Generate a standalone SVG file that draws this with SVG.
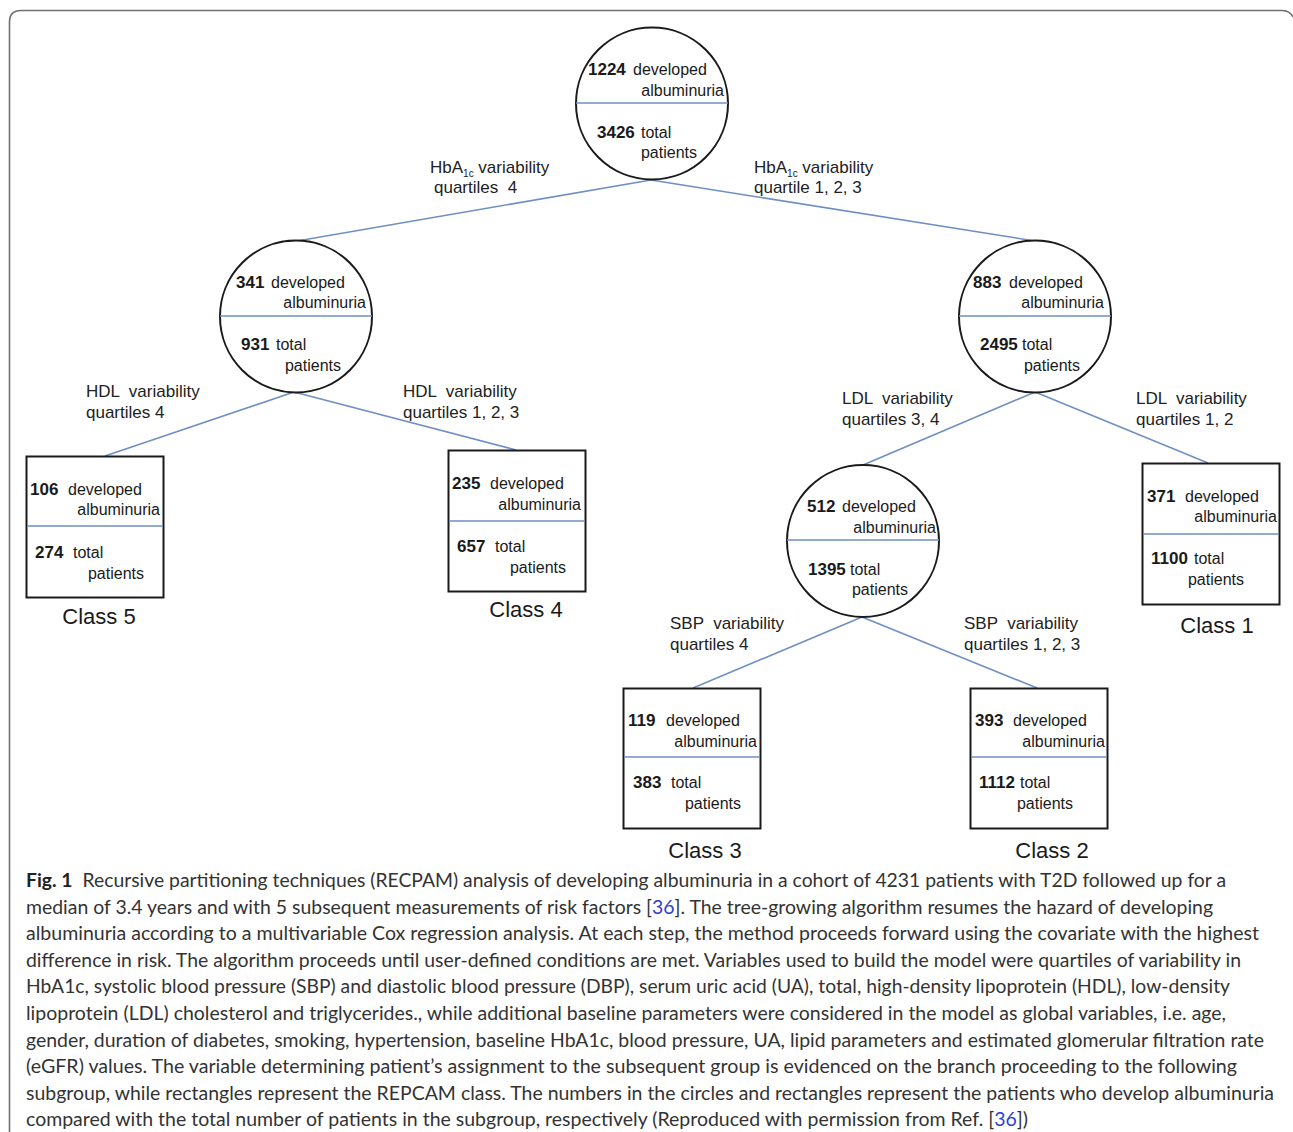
<svg xmlns="http://www.w3.org/2000/svg" width="1293" height="1132" viewBox="0 0 1293 1132">
<style>
.frame{fill:none;stroke:#707070;stroke-width:1.6}
.node{fill:#fff;stroke:#1a1a1a;stroke-width:2}
.div{stroke:#6f8fc4;stroke-width:1.6}
.edge{stroke:#6f8fc4;stroke-width:1.6;fill:none}
.t{font-family:"Liberation Sans",Arial,sans-serif;font-size:16px;fill:#1a1a1a}
.n{font-weight:bold;font-size:17px}
.e{text-anchor:end}
.lbl{font-family:"Liberation Sans",Arial,sans-serif;font-size:17px;fill:#222;white-space:pre}
.sub{font-size:10px}
.cls{font-family:"Liberation Sans",Arial,sans-serif;font-size:22px;fill:#1a1a1a;text-anchor:middle}
.cap{font-family:Lato,"Open Sans",sans-serif;font-size:19.5px;fill:#333;white-space:pre}
.link{fill:#2b3fd8}
</style>
<rect width="1293" height="1132" fill="#fff"/>
<path class="frame" d="M9.5,1132 V22 Q9.5,10.5 21,10.5 H1282 Q1290,10.5 1293,17"/>

<g id="connectors">
<line class="edge" x1="651" y1="180" x2="297" y2="241"/>
<line class="edge" x1="651" y1="180" x2="1035" y2="241"/>
<line class="edge" x1="294" y1="392" x2="105" y2="456"/>
<line class="edge" x1="294" y1="392" x2="516" y2="450"/>
<line class="edge" x1="1035" y1="392" x2="863" y2="465"/>
<line class="edge" x1="1035" y1="392" x2="1208" y2="463"/>
<line class="edge" x1="862" y1="617" x2="693" y2="688"/>
<line class="edge" x1="862" y1="617" x2="1037" y2="688"/>
<text class="lbl" x="430" y="173">HbA<tspan class="sub" dy="4">1c</tspan><tspan dy="-4"> variability</tspan></text>
<text class="lbl" x="434" y="193">quartiles  4</text>
<text class="lbl" x="754" y="173">HbA<tspan class="sub" dy="4">1c</tspan><tspan dy="-4"> variability</tspan></text>
<text class="lbl" x="754" y="193">quartile 1, 2, 3</text>
<text class="lbl" x="86" y="397">HDL  variability</text>
<text class="lbl" x="86" y="418">quartiles 4</text>
<text class="lbl" x="403" y="397">HDL  variability</text>
<text class="lbl" x="403" y="418">quartiles 1, 2, 3</text>
<text class="lbl" x="842" y="404">LDL  variability</text>
<text class="lbl" x="842" y="425">quartiles 3, 4</text>
<text class="lbl" x="1136" y="404">LDL  variability</text>
<text class="lbl" x="1136" y="425">quartiles 1, 2</text>
<text class="lbl" x="670" y="629">SBP  variability</text>
<text class="lbl" x="670" y="650">quartiles 4</text>
<text class="lbl" x="964" y="629">SBP  variability</text>
<text class="lbl" x="964" y="650">quartiles 1, 2, 3</text>
</g>

<g id="node-root">
<circle class="node" cx="652" cy="103.5" r="76"/>
<line class="div" x1="576" y1="103" x2="728" y2="103"/>
<text class="t" y="75"><tspan class="n" x="588">1224</tspan><tspan x="633">developed</tspan></text>
<text class="t e" x="724" y="96">albuminuria</text>
<text class="t" y="138"><tspan class="n" x="597">3426</tspan><tspan x="641">total</tspan></text>
<text class="t e" x="697" y="158">patients</text>
</g>

<g id="node-left">
<circle class="node" cx="296" cy="316.5" r="76"/>
<line class="div" x1="220" y1="316" x2="372" y2="316"/>
<text class="t" y="288"><tspan class="n" x="236">341</tspan><tspan x="271">developed</tspan></text>
<text class="t e" x="366" y="308">albuminuria</text>
<text class="t" y="350"><tspan class="n" x="241">931</tspan><tspan x="276">total</tspan></text>
<text class="t e" x="341" y="371">patients</text>
</g>

<g id="node-right">
<circle class="node" cx="1035" cy="316.5" r="76"/>
<line class="div" x1="959" y1="316" x2="1111" y2="316"/>
<text class="t" y="288"><tspan class="n" x="973">883</tspan><tspan x="1009">developed</tspan></text>
<text class="t e" x="1104" y="308">albuminuria</text>
<text class="t" y="350"><tspan class="n" x="980">2495</tspan><tspan x="1022">total</tspan></text>
<text class="t e" x="1080" y="371">patients</text>
</g>

<g id="node-mid">
<circle class="node" cx="863" cy="541" r="76"/>
<line class="div" x1="787" y1="540" x2="939" y2="540"/>
<text class="t" y="512"><tspan class="n" x="807">512</tspan><tspan x="842">developed</tspan></text>
<text class="t e" x="936" y="533">albuminuria</text>
<text class="t" y="575"><tspan class="n" x="808">1395</tspan><tspan x="850">total</tspan></text>
<text class="t e" x="908" y="595">patients</text>
</g>

<g id="class5">
<rect class="node" x="26.5" y="456.5" width="137" height="141"/>
<line class="div" x1="27" y1="526" x2="163" y2="526"/>
<text class="t" y="495"><tspan class="n" x="30">106</tspan><tspan x="68">developed</tspan></text>
<text class="t e" x="160" y="515">albuminuria</text>
<text class="t" y="558"><tspan class="n" x="35">274</tspan><tspan x="73">total</tspan></text>
<text class="t e" x="144" y="579">patients</text>
<text class="cls" x="99" y="624">Class 5</text>
</g>

<g id="class4">
<rect class="node" x="448.5" y="450.5" width="137" height="141"/>
<line class="div" x1="449" y1="521" x2="585" y2="521"/>
<text class="t" y="489"><tspan class="n" x="452">235</tspan><tspan x="490">developed</tspan></text>
<text class="t e" x="581" y="510">albuminuria</text>
<text class="t" y="552"><tspan class="n" x="457">657</tspan><tspan x="495">total</tspan></text>
<text class="t e" x="566" y="573">patients</text>
<text class="cls" x="526" y="617">Class 4</text>
</g>

<g id="class1">
<rect class="node" x="1142.5" y="463.5" width="137" height="141"/>
<line class="div" x1="1143" y1="534" x2="1279" y2="534"/>
<text class="t" y="502"><tspan class="n" x="1147">371</tspan><tspan x="1185">developed</tspan></text>
<text class="t e" x="1277" y="522">albuminuria</text>
<text class="t" y="564"><tspan class="n" x="1151">1100</tspan><tspan x="1194">total</tspan></text>
<text class="t e" x="1244" y="585">patients</text>
<text class="cls" x="1217" y="633">Class 1</text>
</g>

<g id="class3">
<rect class="node" x="623.5" y="688.5" width="137" height="140"/>
<line class="div" x1="624" y1="757" x2="760" y2="757"/>
<text class="t" y="726"><tspan class="n" x="628">119</tspan><tspan x="666">developed</tspan></text>
<text class="t e" x="757" y="747">albuminuria</text>
<text class="t" y="788"><tspan class="n" x="633">383</tspan><tspan x="671">total</tspan></text>
<text class="t e" x="741" y="809">patients</text>
<text class="cls" x="705" y="858">Class 3</text>
</g>

<g id="class2">
<rect class="node" x="970.5" y="688.5" width="137" height="140"/>
<line class="div" x1="971" y1="757" x2="1107" y2="757"/>
<text class="t" y="726"><tspan class="n" x="975">393</tspan><tspan x="1013">developed</tspan></text>
<text class="t e" x="1105" y="747">albuminuria</text>
<text class="t" y="788"><tspan class="n" x="979">1112</tspan><tspan x="1020">total</tspan></text>
<text class="t e" x="1073" y="809">patients</text>
<text class="cls" x="1052" y="858">Class 2</text>
</g>

<g id="caption">
<text class="cap" x="26" y="887" textLength="1200" lengthAdjust="spacingAndGlyphs"><tspan font-weight="bold" fill="#222">Fig. 1</tspan>  Recursive partitioning techniques (RECPAM) analysis of developing albuminuria in a cohort of 4231 patients with T2D followed up for a</text>
<text class="cap" x="26" y="913.6" textLength="1187" lengthAdjust="spacingAndGlyphs">median of 3.4 years and with 5 subsequent measurements of risk factors [<tspan class="link">36</tspan>]. The tree-growing algorithm resumes the hazard of developing</text>
<text class="cap" x="26" y="940.2" textLength="1233" lengthAdjust="spacingAndGlyphs">albuminuria according to a multivariable Cox regression analysis. At each step, the method proceeds forward using the covariate with the highest</text>
<text class="cap" x="26" y="966.8" textLength="1215" lengthAdjust="spacingAndGlyphs">difference in risk. The algorithm proceeds until user-defined conditions are met. Variables used to build the model were quartiles of variability in</text>
<text class="cap" x="26" y="993.4" textLength="1204" lengthAdjust="spacingAndGlyphs">HbA1c, systolic blood pressure (SBP) and diastolic blood pressure (DBP), serum uric acid (UA), total, high-density lipoprotein (HDL), low-density</text>
<text class="cap" x="26" y="1020" textLength="1200" lengthAdjust="spacingAndGlyphs">lipoprotein (LDL) cholesterol and triglycerides., while additional baseline parameters were considered in the model as global variables, i.e. age,</text>
<text class="cap" x="26" y="1046.6" textLength="1238" lengthAdjust="spacingAndGlyphs">gender, duration of diabetes, smoking, hypertension, baseline HbA1c, blood pressure, UA, lipid parameters and estimated glomerular filtration rate</text>
<text class="cap" x="26" y="1073.2" textLength="1211" lengthAdjust="spacingAndGlyphs">(eGFR) values. The variable determining patient’s assignment to the subsequent group is evidenced on the branch proceeding to the following</text>
<text class="cap" x="26" y="1099.8" textLength="1248" lengthAdjust="spacingAndGlyphs">subgroup, while rectangles represent the REPCAM class. The numbers in the circles and rectangles represent the patients who develop albuminuria</text>
<text class="cap" x="26" y="1126.4" textLength="1002" lengthAdjust="spacingAndGlyphs">compared with the total number of patients in the subgroup, respectively (Reproduced with permission from Ref. [<tspan class="link">36</tspan>])</text>
</g>
</svg>
